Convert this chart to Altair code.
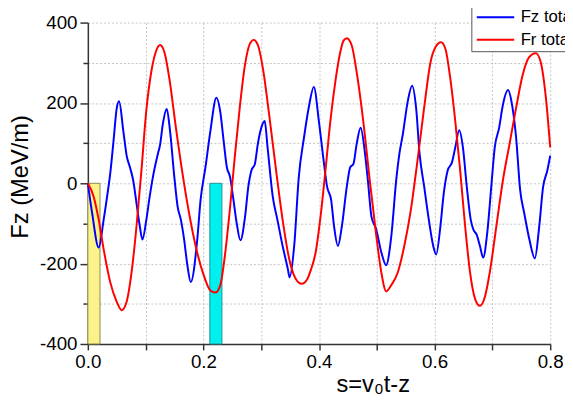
import altair as alt
import pandas as pd

# ---- data ----
series_names = ["Fz total", "Fr total"]

fz_s = [0.0, 0.0074, 0.0188, 0.0273, 0.0341, 0.0387, 0.0444, 0.05, 0.054, 0.0614, 0.0671, 0.0728,
        0.0785, 0.0842, 0.0899, 0.0944, 0.1012, 0.1069, 0.1126, 0.1211, 0.1251, 0.1296, 0.1365,
        0.1422, 0.1496, 0.1553, 0.161, 0.1666, 0.1723, 0.178, 0.1893, 0.195, 0.2035, 0.212,
        0.2224, 0.229, 0.235, 0.2405, 0.246, 0.252, 0.2575, 0.264, 0.272, 0.2776, 0.283, 0.289,
        0.294, 0.3, 0.306, 0.311, 0.32, 0.328, 0.337, 0.346, 0.349, 0.357, 0.365, 0.374, 0.383,
        0.391, 0.3997, 0.408, 0.414, 0.421, 0.426, 0.4327, 0.4395, 0.448, 0.454, 0.4595, 0.465,
        0.472, 0.479, 0.485, 0.4907, 0.499, 0.508, 0.516, 0.525, 0.5335, 0.539, 0.545, 0.5535,
        0.561, 0.568, 0.574, 0.582, 0.59, 0.5976, 0.6027, 0.61, 0.6158, 0.6226, 0.63, 0.6357,
        0.6425, 0.649, 0.6557, 0.6625, 0.667, 0.6727, 0.6784, 0.684, 0.691, 0.6985, 0.704,
        0.7116, 0.7181, 0.727, 0.734, 0.741, 0.748, 0.755, 0.764, 0.7734, 0.781, 0.7877, 0.795,
        0.8]
fz_v = [0, -74, -160, -91, -25, 24, 105, 187, 204, 130, 69, 40,
        7, -50, -107, -140, -91, -34, 16, 73, 97, 146, 185,
        130, 16, -58, -91, -140, -205, -246, -140, -42, 40, 130,
        213, 179, 105, 40, 16, -42, -99, -142, -83, -9, 32, 48,
        97, 138, 155, 89, -34, -91, -156, -213, -234, -156, 16, 114, 195,
        240, 155, 56, -9, -42, -107, -156, -107, -9, 40, 48, 97,
        138, 81, 0, -83, -115, -173, -204, -132, 7, 73, 122, 204,
        243, 187, 73, -9, -91, -156, -177, -107, -25, 32, 52, 89,
        132, 89, -9, -91, -115, -128, -156, -185, -124, 0, 89,
        138, 195, 232, 195, 114, -17, -74, -140, -187, -107, -9, 32,
        69]

fr_s = [0.0, 0.0102, 0.0188, 0.0273, 0.0387, 0.05, 0.0586, 0.0671, 0.0756, 0.0842, 0.0927, 0.101,
        0.1097, 0.1183, 0.125, 0.1325, 0.141, 0.1524, 0.1638, 0.1751, 0.1865, 0.2007, 0.212,
        0.2206, 0.229, 0.2377, 0.2462, 0.2547, 0.2633, 0.2718, 0.2803, 0.2871, 0.2945, 0.303,
        0.3144, 0.3257, 0.337, 0.3485, 0.3598, 0.37, 0.3798, 0.386, 0.394, 0.4026, 0.4111,
        0.4196, 0.4282, 0.4367, 0.4424, 0.4481, 0.4566, 0.4651, 0.4765, 0.4878, 0.4992, 0.5078,
        0.5163, 0.5248, 0.5362, 0.5475, 0.5589, 0.5703, 0.5816, 0.593, 0.6016, 0.6112, 0.6186,
        0.6271, 0.6357, 0.6442, 0.6528, 0.6613, 0.6698, 0.6784, 0.6869, 0.6954, 0.7068, 0.7181,
        0.7295, 0.7409, 0.7522, 0.7636, 0.775, 0.7835, 0.792, 0.8]
fr_v = [0, -34, -91, -164, -246, -295, -316, -295, -222, -107, 32, 179,
        277, 330, 344, 326, 261, 138, 24, -74, -156, -230, -267,
        -272, -254, -173, -58, 73, 195, 294, 347, 357, 343, 285,
        163, 32, -91, -189, -238, -250, -238, -215, -173, -83, 32,
        155, 253, 326, 355, 361, 343, 277, 155, 7, -132, -222,
        -269, -254, -222, -156, -66, 56, 185, 302, 339, 351, 335,
        261, 155, 32, -107, -222, -287, -305, -283, -222, -107, 7,
        97, 187, 269, 314, 324, 302, 220, 89]

band_start = [0.0, 0.211]
band_end = [0.021, 0.232]
band_low = [-400, -400]
band_high = [0, 0]

x_ticks = [0.0, 0.1, 0.2, 0.3, 0.4, 0.5, 0.6, 0.7, 0.8]
y_ticks = [-400, -300, -200, -100, 0, 100, 200, 300, 400]

# ---- tables ----
fz = pd.DataFrame({"s": fz_s, "F": fz_v, "series": series_names[0]})
fr = pd.DataFrame({"s": fr_s, "F": fr_v, "series": series_names[1]})
bands = pd.DataFrame({"x0": band_start, "x1": band_end, "y0": band_low, "y1": band_high})

FONT = "Liberation Sans"

x_scale = alt.Scale(domain=[0, 0.8], nice=False, zero=False)
y_scale = alt.Scale(domain=[-400, 400], nice=False)

x_axis = alt.Axis(
    values=x_ticks,
    labelExpr="round(datum.value*10) % 2 === 0 ? format(datum.value, '.1f') : ''",
    labelFlush=False,
    title="s=v\u2080t-z",
    titleX=289, titleY=48, titleAlign="center", titleBaseline="alphabetic",
    tickSize=6, labelPadding=3,
)
y_axis = alt.Axis(
    values=y_ticks,
    labelExpr="datum.value % 200 === 0 ? '' + datum.value : ''",
    labelFlush=False,
    title="Fz (MeV/m)",
    titleX=-68, titleY=156, titleAlign="center", titleBaseline="middle", titleAngle=270,
    tickSize={"condition": {"test": "datum.value % 200 === 0", "value": 8}, "value": 5},
    labelPadding=3,
)

color_scale = alt.Scale(domain=series_names, range=["#0000ff", "#ff0000"])
legend = alt.Legend(
    orient="none", legendX=389, legendY=-17, title=None,
    symbolType="M-3,0H3", symbolSize=160, symbolStrokeWidth=2,
    symbolOffset=13, labelOffset=17,
    labelFontSize=17, labelFont=FONT, labelColor="#000",
    strokeColor="#555", fillColor="white", padding=3, rowPadding=5,
)

def band(i, fill, stroke):
    return alt.Chart(bands.iloc[[i]]).mark_rect(fill=fill, stroke=stroke, strokeWidth=1).encode(
        x=alt.X("x0:Q", scale=x_scale, axis=x_axis),
        x2="x1:Q",
        y=alt.Y("y0:Q", scale=y_scale, axis=y_axis),
        y2="y1:Q",
    )

def line(df):
    return alt.Chart(df).mark_line(strokeWidth=2, interpolate="monotone").encode(
        x=alt.X("s:Q", scale=x_scale, axis=x_axis),
        y=alt.Y("F:Q", scale=y_scale, axis=y_axis),
        color=alt.Color("series:N", scale=color_scale, legend=legend),
    )

chart = alt.layer(
    band(0, "#fbf38a", "#8a8a50"),
    band(1, "#00f0f0", "#2a9090"),
    line(fz),
    line(fr),
).properties(
    width=469, height=326,
    autosize=alt.AutoSizeParams(type="none"),
    padding={"left": 81, "top": 12, "right": 15, "bottom": 53},
).configure_view(
    stroke=None
).configure_axis(
    labelFont=FONT, titleFont=FONT, labelFontSize=19, titleFontSize=24,
    labelColor="#000", titleColor="#000", titleFontWeight="normal",
    domainColor="#333", domainWidth=1.5, tickColor="#333", tickWidth=1.5,
    gridColor="#c4c4c4", gridDash=[2, 2], gridWidth=1,
)

chart.save("out.html", embed_options={"renderer": "svg", "actions": False})
